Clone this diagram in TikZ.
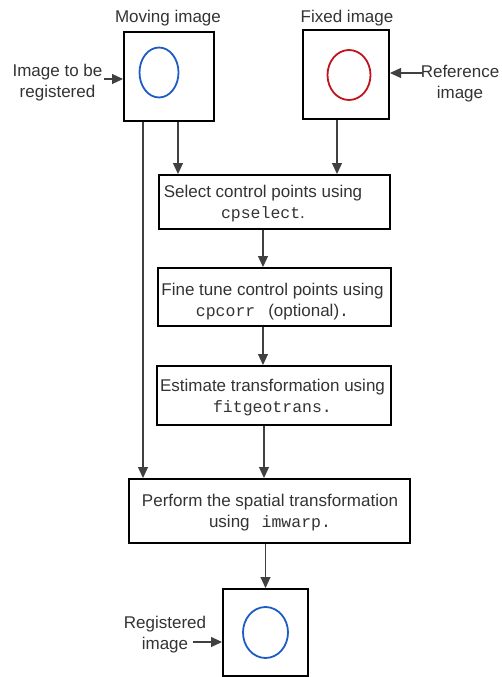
\documentclass[tikz,border=0pt]{standalone}
\usepackage{fontspec}
\setmainfont{Liberation Sans}
\setmonofont{Liberation Mono}
\usetikzlibrary{arrows.meta}
\definecolor{txt}{HTML}{333333}
\definecolor{wire}{HTML}{404040}
\definecolor{ringblue}{HTML}{1F5BC4}
\definecolor{ringred}{HTML}{C0141C}
\newcommand{\cmd}[1]{{\fontsize{16.5}{21}\ttfamily #1}}
\tikzset{
  x=1pt, y=-1pt,
  every node/.style={font=\fontsize{17}{21}\selectfont, text=txt},
  frame/.style={draw=black, line width=2pt, inner sep=0pt},
  lbl/.style={align=center, inner sep=1pt},
  arr/.style={draw=wire, line width=1.1pt, -{Triangle[length=11pt,width=10pt]}},
}
\begin{document}
\begin{tikzpicture}
\useasboundingbox (0,0) rectangle (501,677);

% input and output image frames
\node[frame, minimum width=90pt, minimum height=89pt] (mov) at (169,76.5) {};
\node[frame, minimum width=86pt, minimum height=89pt] (fix) at (346,74.5) {};
\node[frame, minimum width=85pt, minimum height=87pt] (out) at (265.5,632.5) {};
\draw[ringblue, line width=1.8pt] (mov.center) ++(-10,-4) ellipse [x radius=19.5, y radius=25];
\draw[ringred, line width=1.8pt] (fix.center) ++(3,0.5) ellipse [x radius=21.5, y radius=25];
\draw[ringblue, line width=1.8pt] (out.center) ellipse [x radius=22.5, y radius=25.5];

% titles and side labels
\node (movt) at (168,18) {Moving image};
\node (fixt) at (347,18) {Fixed image};
\node[lbl] (reg) at (57.5,82.5) {Image to be\\registered};
\node[lbl] (ref) at (460,84) {Reference\\image};
\node[lbl] (res) at (165,635) {Registered\\image};
\coordinate (regin) at (104,79);
\coordinate (refin) at (423,73);
\coordinate (resin) at (193,642);

% processing steps
\node[frame, minimum width=231pt, minimum height=54pt] (b1) at (274.5,202) {};
\node[frame, minimum width=233pt, minimum height=58pt] (b2) at (274.5,297) {};
\node[frame, minimum width=234pt, minimum height=59pt] (b3) at (274,395.5) {};
\node[frame, minimum width=281pt, minimum height=64pt] (b4) at (269.5,511) {};
\node[lbl] (t1) at (263,204) {Select control points using\\\cmd{cpselect}.};
\node[lbl] (t2) at (272.5,302) {Fine tune control points using\\\cmd{cpcorr}\hspace{13pt}(optional)\cmd{.}};
\node[lbl] (t3) at (272.5,397.5) {Estimate transformation using\\\cmd{fitgeotrans.}};
\node[lbl] (t4) at (270,512.5) {Perform the spatial transformation\\using\hspace{12pt}\cmd{imwarp.}};

% connectors
\draw[arr] (regin) -- (mov.west |- regin);
\draw[arr] (refin) -- (fix.east |- refin);
\draw[arr] (resin) -- (out.west |- resin);
\draw[arr] ([xshift=9pt]mov.south) -- ([xshift=9pt]mov.south |- b1.north);
\draw[arr] ([xshift=-9pt]fix.south) -- ([xshift=-9pt]fix.south |- b1.north);
\draw[arr] ([xshift=-26pt]mov.south) -- ([xshift=-26pt]mov.south |- b4.north);
\draw[arr] ([xshift=-11.5pt]b1.south) -- ([xshift=-11.5pt]b1.south |- b2.north);
\draw[arr] ([xshift=-11.5pt]b2.south) -- ([xshift=-11.5pt]b2.south |- b3.north);
\draw[arr] ([xshift=-10pt]b3.south) -- ([xshift=-10pt]b3.south |- b4.north);
\draw[arr] (out.north |- b4.south) -- (out.north);
\end{tikzpicture}
\end{document}
